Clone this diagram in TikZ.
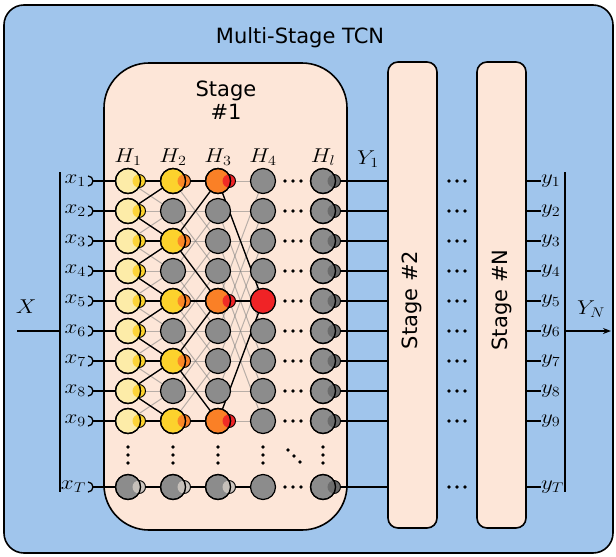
\RequirePackage{fix-cm}
\documentclass[tikz,border=0pt]{standalone}
\usepackage{fontspec}
\setsansfont{DejaVu Sans}
\usetikzlibrary{calc,arrows.meta}
\definecolor{bluebg}{RGB}{160,197,236}
\definecolor{peach}{RGB}{253,230,216}
\definecolor{cA}{RGB}{253,236,168}
\definecolor{cB}{RGB}{252,210,45}
\definecolor{cC}{RGB}{250,128,38}
\definecolor{cD}{RGB}{240,35,38}
\definecolor{cG}{RGB}{140,140,140}
\definecolor{cGd}{RGB}{105,105,105}
\definecolor{cGl}{RGB}{205,198,192}
\pgfdeclarelayer{back}
\pgfdeclarelayer{lines}
\pgfdeclarelayer{bumps}
\pgfdeclarelayer{top}
\pgfsetlayers{back,lines,bumps,main,top}
\newcommand\mlab[1]{\scalebox{1.15}[1]{$#1$}}
\tikzset{
  unit/.style={circle, draw, line width=1.2pt, minimum size=25pt, inner sep=0pt},
  bump/.style={circle, draw, line width=0.9pt, minimum size=13pt, inner sep=0pt},
  faint/.style={draw=black!50, opacity=0.55, line width=1pt},
  conn/.style={draw=black, line width=1.3pt},
  boxline/.style={line width=1.6pt},
  mlabel/.style={font=\fontsize{20}{23}\selectfont, inner sep=1pt},
  slabel/.style={font=\sffamily\fontsize{21}{25}\selectfont},
  dotn/.style={circle, fill=black, inner sep=0pt, minimum size=3.6pt}
}
\newcommand\bumpat[2]{%
  \begin{pgfonlayer}{bumps}\node[bump, fill=#2] (bump-#1) at ($(#1.center)+(11,0)$) {};\end{pgfonlayer}%
  \begin{pgfonlayer}{top}%
    \begin{scope}\clip (#1.center) circle (12.5pt);
      \fill[#2, opacity=0.9] ($(#1.center)+(11,0)$) circle (6.5pt);\end{scope}
    \draw[line width=1.2pt] (#1.center) circle (12.5pt);%
  \end{pgfonlayer}}
\begin{document}
\begin{tikzpicture}[x=1pt,y=-1pt]
\useasboundingbox (0,0) rectangle (616,557);
\begin{pgfonlayer}{back}
% outer box
\draw[boxline, fill=bluebg, rounded corners=20pt] (4,5) rectangle (613,553);
\node[slabel] (title) at (300,38) {Multi-Stage TCN};
% stage boxes
\draw[boxline, fill=peach, rounded corners=45pt] (104,63) rectangle (347,530);
\node[slabel, align=center] (s1) at (226,100) {Stage\\[-2pt]\#1};
\node[boxline, draw, fill=peach, rounded corners=10pt, minimum width=49pt, minimum height=466pt, inner sep=0pt] (st2) at (412.5,295) {};
\node[boxline, draw, fill=peach, rounded corners=10pt, minimum width=49pt, minimum height=466pt, inner sep=0pt] (stN) at (501.5,295) {};
\node[slabel, rotate=90] (t2) at (412,300) {Stage \#2};
\node[slabel, rotate=90] (tN) at (502,300) {Stage \#N};
\end{pgfonlayer}
% column headers
\node[mlabel] (h1) at (128,157) {\mlab{H_1}};
\node[mlabel] (h2) at (173,157) {\mlab{H_2}};
\node[mlabel] (h3) at (218,157) {\mlab{H_3}};
\node[mlabel] (h4) at (263,157) {\mlab{H_4}};
\node[mlabel] (hl) at (323,157) {\mlab{H_l}};
\node[mlabel] (Y1) at (368,159) {\mlab{Y_1}};
% units
\foreach \c/\xx in {1/128,2/173,3/218,4/263,5/323}{
  \foreach \r in {1,...,9}{
    \node[unit, fill=cG] (n-\c-\r) at (\xx,{181+30*(\r-1)}) {};
  }
  \node[unit, fill=cG] (n-\c-10) at (\xx,487) {};
}
% recolor highlighted units
\foreach \r in {1,...,9}{ \node[unit, fill=cA] at (n-1-\r) {}; }
\foreach \r in {1,3,5,7,9}{ \node[unit, fill=cB] at (n-2-\r) {}; }
\foreach \r in {1,5,9}{ \node[unit, fill=cC] at (n-3-\r) {}; }
\node[unit, fill=cD] at (n-4-5) {};
% bumps
\foreach \r in {1,...,9}{ \bumpat{n-1-\r}{cB} }
\foreach \r in {1,3,5,7,9}{ \bumpat{n-2-\r}{cC} }
\foreach \r in {1,5,9}{ \bumpat{n-3-\r}{cD} }
\foreach \r in {1,...,10}{ \bumpat{n-5-\r}{cGd} }
\foreach \c in {1,2,3}{ \bumpat{n-\c-10}{cGl} }
% faint dilated connections
\begin{pgfonlayer}{lines}
\foreach \r in {1,...,9}{
  \foreach \d in {-1,0,1}{
    \pgfmathtruncatemacro{\t}{\r+\d}
    \ifnum\t>0 \ifnum\t<10 \draw[faint] (n-1-\r.center) -- (n-2-\t.center); \fi\fi
  }
  \foreach \d in {-2,0,2}{
    \pgfmathtruncatemacro{\t}{\r+\d}
    \ifnum\t>0 \ifnum\t<10 \draw[faint] (n-2-\r.center) -- (n-3-\t.center); \fi\fi
  }
  \foreach \d in {-4,0,4}{
    \pgfmathtruncatemacro{\t}{\r+\d}
    \ifnum\t>0 \ifnum\t<10 \draw[faint] (n-3-\r.center) -- (n-4-\t.center); \fi\fi
  }
}
% receptive field
\foreach \a/\b in {1/1,2/1,2/3,3/3,4/3,4/5,5/5,6/5,6/7,7/7,8/7,8/9,9/9}{
  \draw[conn] (n-1-\a.center) -- (n-2-\b.center);
}
\foreach \a/\b in {1/1,3/1,3/5,5/5,7/5,7/9,9/9}{
  \draw[conn] (n-2-\a.center) -- (n-3-\b.center);
}
\foreach \a/\b in {1/5,5/5,9/5}{
  \draw[conn] (n-3-\a.center) -- (n-4-\b.center);
}
\draw[conn] (n-1-10.center) -- (n-2-10.center) -- (n-3-10.center) -- (n-4-10.center);
% outputs of stage 1 to stage 2
\foreach \r in {1,...,10}{
  \draw[conn] (n-5-\r.center) -- (n-5-\r.center -| st2.west);
}
% inputs
\foreach \r in {1,...,10}{
  \coordinate (p-\r) at ($(n-1-\r.center)+(-36,0)$);
  \draw[conn] (p-\r) -- (n-1-\r.center);
}
\end{pgfonlayer}
\foreach \r/\lab in {1/x_1,2/x_2,3/x_3,4/x_4,5/x_5,6/x_6,7/x_7,8/x_8,9/x_9,10/x_T}{
  \node[mlabel, anchor=east] (xl-\r) at ($(p-\r)+(-5,0)$) {\mlab{\lab}};
  \draw[line width=1.3pt] ($(p-\r)+(-4,-5)$) arc[start angle=90, end angle=-90, radius=5pt];
}
% dots
\foreach \r in {1,...,10}{
  \foreach \k/\dx in {1/-8,2/0,3/8}{
    \node[dotn] (da-\r-\k) at ($(n-4-\r)!0.5!(n-5-\r)+(\dx,0)$) {};
    \node[dotn] (db-\r-\k) at ($(st2.east |- n-5-\r)!0.5!(stN.west |- n-5-\r)+(\dx,0)$) {};
  }
}
\foreach \c in {1,...,5}{
  \foreach \k/\dy in {1/-8,2/0,3/8}{
    \node[dotn] (v-\c-\k) at ($(n-\c-9)!0.5!(n-\c-10)+(0,1+\dy)$) {};
  }
}
\foreach \k/\dd in {1/-6,2/0,3/6}{
  \node[dotn] (dd-\k) at ($(294,456)+(\dd,\dd)$) {};
}
% input bus
\coordinate (bx1) at (60,172);
\coordinate (bx2) at (60,492);
\draw[line width=1.3pt] (bx1) -- (bx2);
\coordinate (xin) at (17,331);
\draw[line width=1.3pt] (xin) -- (xin -| bx1);
\node[mlabel] (X) at (26,307) {\mlab{X}};
% outputs
\coordinate (by1) at (565,172);
\coordinate (by2) at (565,492);
\draw[line width=1.3pt] (by1) -- (by2);
\foreach \r/\lab in {1/y_1,2/y_2,3/y_3,4/y_4,5/y_5,6/y_6,7/y_7,8/y_8,9/y_9,10/y_T}{
  \coordinate (q-\r) at ($(stN.east |- n-5-\r)+(14,0)$);
  \draw[line width=1.3pt] (stN.east |- n-5-\r) -- (q-\r);
  \node[mlabel, anchor=west] (yl-\r) at ($(q-\r)+(-1,0)$) {\mlab{\lab}};
}
\coordinate (yout) at (611,331);
\draw[line width=1.3pt, -{Stealth[length=8pt,width=6pt]}] (yout -| by1) -- (yout);
\node[mlabel] (YN) at (591,309) {\mlab{Y_N}};
\end{tikzpicture}
\end{document}
